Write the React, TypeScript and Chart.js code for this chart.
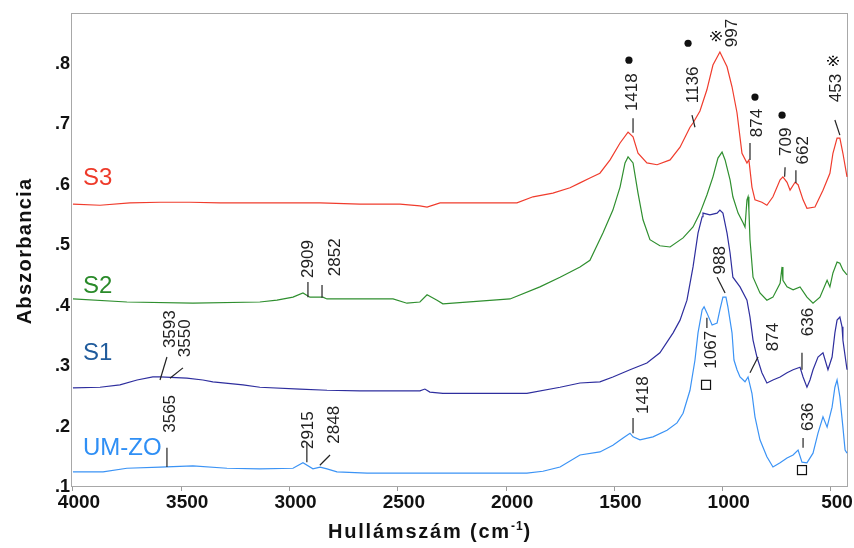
import React, { useEffect, useRef } from 'react';
import { Chart, registerables } from 'chart.js';

Chart.register(...registerables);

// ---- axis ticks ----
const xTickValues = [4000, 3500, 3000, 2500, 2000, 1500, 1000, 500];
const yTickValues = [0.1, 0.2, 0.3, 0.4, 0.5, 0.6, 0.7, 0.8];

// ---- spectra: [wavenumber (cm-1), absorbance] ----
const S3: [number, number][] = [
  [4000, 0.568], [3875, 0.566], [3737, 0.570], [3598, 0.571], [3460, 0.571], [3321, 0.570], [3183, 0.570],
  [3044, 0.570], [2859, 0.570], [2675, 0.568], [2490, 0.568], [2398, 0.565], [2365, 0.563], [2305, 0.570],
  [2121, 0.570], [1950, 0.570], [1876, 0.580], [1784, 0.586], [1705, 0.595], [1659, 0.603], [1613, 0.611],
  [1567, 0.619], [1520, 0.641], [1474, 0.669], [1437, 0.687], [1414, 0.679], [1391, 0.652], [1350, 0.636],
  [1303, 0.633], [1243, 0.641], [1197, 0.662], [1151, 0.695], [1137, 0.702], [1105, 0.722], [1073, 0.757],
  [1045, 0.798], [1013, 0.8195], [980, 0.795], [957, 0.762], [934, 0.719], [911, 0.652], [888, 0.636],
  [879, 0.641], [865, 0.596], [851, 0.575], [819, 0.571], [796, 0.566], [768, 0.580], [735, 0.608],
  [722, 0.613], [703, 0.604], [689, 0.591], [666, 0.604], [652, 0.600], [629, 0.575], [611, 0.561],
  [574, 0.563], [537, 0.591], [505, 0.619], [491, 0.652], [472, 0.677], [459, 0.677], [445, 0.652], [426, 0.613],
];

const S2: [number, number][] = [
  [4000, 0.411], [3751, 0.406], [3446, 0.404], [3137, 0.406], [3058, 0.409], [2984, 0.414], [2938, 0.421],
  [2906, 0.414], [2846, 0.414], [2827, 0.411], [2522, 0.411], [2458, 0.404], [2398, 0.406], [2365, 0.418],
  [2319, 0.409], [2292, 0.403], [1982, 0.411], [1844, 0.431], [1751, 0.447], [1659, 0.464], [1613, 0.475],
  [1553, 0.520], [1507, 0.558], [1474, 0.596], [1451, 0.636], [1437, 0.646], [1414, 0.636], [1391, 0.586],
  [1368, 0.542], [1336, 0.509], [1290, 0.499], [1243, 0.497], [1183, 0.512], [1137, 0.530], [1105, 0.553],
  [1073, 0.583], [1045, 0.613], [1022, 0.644], [1003, 0.654], [989, 0.641], [966, 0.608], [953, 0.580],
  [929, 0.553], [906, 0.537], [897, 0.530], [888, 0.575], [883, 0.580], [879, 0.558], [874, 0.509],
  [860, 0.447], [828, 0.421], [796, 0.409], [768, 0.414], [735, 0.437], [726, 0.464], [722, 0.442],
  [703, 0.431], [675, 0.426], [643, 0.431], [611, 0.414], [583, 0.404], [551, 0.414], [518, 0.442],
  [505, 0.431], [491, 0.454], [472, 0.472], [459, 0.470], [445, 0.459], [426, 0.451],
];

const S1: [number, number][] = [
  [4000, 0.264], [3875, 0.265], [3783, 0.269], [3704, 0.277], [3631, 0.282], [3598, 0.282], [3474, 0.280],
  [3400, 0.277], [3354, 0.274], [3215, 0.269], [3137, 0.265], [2952, 0.262], [2827, 0.260], [2675, 0.259],
  [2398, 0.259], [2375, 0.262], [2352, 0.257], [2292, 0.255], [2213, 0.255], [1904, 0.255], [1751, 0.265],
  [1659, 0.272], [1567, 0.274], [1507, 0.282], [1428, 0.294], [1350, 0.305], [1290, 0.322], [1229, 0.355],
  [1197, 0.376], [1165, 0.409], [1137, 0.464], [1114, 0.520], [1095, 0.547], [1091, 0.553], [1059, 0.550],
  [1026, 0.553], [1013, 0.558], [999, 0.553], [980, 0.520], [966, 0.487], [953, 0.447], [920, 0.431],
  [888, 0.409], [874, 0.381], [860, 0.343], [842, 0.315], [819, 0.289], [796, 0.272], [768, 0.277],
  [735, 0.282], [703, 0.289], [675, 0.294], [643, 0.298], [629, 0.282], [611, 0.265], [597, 0.277],
  [583, 0.294], [560, 0.315], [537, 0.322], [514, 0.294], [495, 0.315], [482, 0.355], [472, 0.376],
  [459, 0.381], [449, 0.365], [445, 0.343], [426, 0.294],
];

const UMZO: [number, number][] = [
  [4000, 0.125], [3861, 0.125], [3751, 0.131], [3598, 0.133], [3446, 0.135], [3289, 0.131], [3137, 0.130],
  [2984, 0.131], [2938, 0.140], [2892, 0.130], [2859, 0.133], [2827, 0.130], [2781, 0.125], [2642, 0.123],
  [2365, 0.123], [1904, 0.123], [1830, 0.126], [1751, 0.133], [1659, 0.153], [1567, 0.158], [1507, 0.169],
  [1460, 0.181], [1428, 0.189], [1414, 0.183], [1382, 0.178], [1322, 0.183], [1257, 0.194], [1211, 0.206],
  [1183, 0.222], [1151, 0.260], [1128, 0.310], [1114, 0.355], [1095, 0.393], [1086, 0.398], [1073, 0.388],
  [1049, 0.368], [1026, 0.371], [1013, 0.393], [999, 0.414], [985, 0.414], [976, 0.398], [957, 0.355],
  [948, 0.310], [934, 0.294], [920, 0.282], [897, 0.274], [883, 0.282], [865, 0.255], [851, 0.216],
  [828, 0.178], [796, 0.150], [768, 0.133], [735, 0.140], [703, 0.148], [675, 0.153], [652, 0.161],
  [634, 0.141], [611, 0.140], [583, 0.156], [560, 0.189], [537, 0.216], [518, 0.199], [495, 0.232],
  [482, 0.265], [472, 0.277], [459, 0.249], [445, 0.199], [435, 0.161], [426, 0.156],
];

// ---- series names / colours ----
const seriesNames = ['S3', 'S2', 'S1', 'UM-ZO'];
const seriesLineColors = ['#f03c2d', '#2f8f2f', '#2e2e9e', '#3b93f5'];
const seriesLabelColors = ['#ee3a2a', '#2a8a2a', '#1f5b9c', '#2f8ff5'];
// label anchor (left, baseline) in data units
const seriesLabelX = [3954, 3954, 3954, 3954];
const seriesLabelY = [0.6, 0.421, 0.31, 0.153];

// ---- peak annotations (data units) ----
type Peak = {
  text: string; x: number; y: number;
  line?: [number, number, number, number];
  mark?: 'dot' | 'star' | 'square'; mx?: number; my?: number;
};
const peakLabels: Peak[] = [
  // S3
  { text: '1418', x: 1419, y: 0.753, line: [1414, 0.710, 1414, 0.686], mark: 'dot', mx: 1433, my: 0.806 },
  { text: '1136', x: 1137, y: 0.765, line: [1142, 0.715, 1128, 0.695], mark: 'dot', mx: 1160, my: 0.834 },
  { text: '997', x: 957, y: 0.851, mark: 'star', mx: 1022, my: 0.846 },
  { text: '874', x: 842, y: 0.702, line: [874, 0.669, 874, 0.641], mark: 'dot', mx: 851, my: 0.745 },
  { text: '709', x: 708, y: 0.671, line: [712, 0.629, 714, 0.613], mark: 'dot', mx: 726, my: 0.715 },
  { text: '662', x: 629, y: 0.657, line: [662, 0.624, 662, 0.603] },
  { text: '453', x: 477, y: 0.760, line: [482, 0.707, 459, 0.682], mark: 'star', mx: 480, my: 0.805 },
  // S2
  { text: '2909', x: 2915, y: 0.477, line: [2915, 0.439, 2915, 0.414] },
  { text: '2852', x: 2790, y: 0.480, line: [2850, 0.434, 2850, 0.413] },
  // S1
  { text: '3593', x: 3552, y: 0.361, line: [3598, 0.277, 3566, 0.315] },
  { text: '3550', x: 3483, y: 0.346, line: [3552, 0.280, 3492, 0.297] },
  { text: '988', x: 1013, y: 0.475, line: [1026, 0.447, 989, 0.421] },
  { text: '1067', x: 1054, y: 0.327, line: [1073, 0.380, 1073, 0.363], mark: 'square', mx: 1077, my: 0.269 },
  { text: '874', x: 768, y: 0.348, line: [874, 0.289, 837, 0.315] },
  { text: '636', x: 606, y: 0.373, line: [634, 0.322, 634, 0.294] },
  // UM-ZO
  { text: '3565', x: 3552, y: 0.221, line: [3566, 0.165, 3566, 0.133] },
  { text: '2915', x: 2915, y: 0.194, line: [2920, 0.173, 2920, 0.141] },
  { text: '2848', x: 2795, y: 0.203, line: [2860, 0.136, 2813, 0.153] },
  { text: '1418', x: 1368, y: 0.252, line: [1414, 0.214, 1414, 0.189] },
  { text: '636', x: 606, y: 0.216, line: [629, 0.181, 629, 0.165], mark: 'square', mx: 634, my: 0.128 },
];

const FONT = '"Liberation Sans", Arial, sans-serif';

const overlayPlugin = {
  id: 'overlay',
  beforeDatasetsDraw(chart: any) {
    const { ctx, chartArea } = chart;
    ctx.save();
    ctx.strokeStyle = '#a8a8a8';
    ctx.lineWidth = 1;
    ctx.strokeRect(chartArea.left + 0.5, chartArea.top + 0.5, chartArea.right - chartArea.left - 1, chartArea.bottom - chartArea.top - 1);
    ctx.restore();
  },
  afterDraw(chart: any) {
    const { ctx, scales } = chart;
    const xs = scales.x, ys = scales.y;
    ctx.save();
    // series labels
    ctx.font = `24px ${FONT}`;
    ctx.textAlign = 'left';
    ctx.textBaseline = 'alphabetic';
    seriesNames.forEach((n, i) => {
      ctx.fillStyle = seriesLabelColors[i];
      ctx.fillText(n, xs.getPixelForValue(seriesLabelX[i]), ys.getPixelForValue(seriesLabelY[i]));
    });
    // peak labels
    for (const p of peakLabels) {
      const px = xs.getPixelForValue(p.x), py = ys.getPixelForValue(p.y);
      ctx.save();
      ctx.translate(px, py);
      ctx.rotate(-Math.PI / 2);
      ctx.font = `17px ${FONT}`;
      ctx.fillStyle = '#222';
      ctx.textAlign = 'center';
      ctx.textBaseline = 'middle';
      ctx.fillText(p.text, 0, 0);
      ctx.restore();
      if (p.line) {
        ctx.strokeStyle = '#222';
        ctx.lineWidth = 1.2;
        ctx.beginPath();
        ctx.moveTo(xs.getPixelForValue(p.line[0]), ys.getPixelForValue(p.line[1]));
        ctx.lineTo(xs.getPixelForValue(p.line[2]), ys.getPixelForValue(p.line[3]));
        ctx.stroke();
      }
      if (p.mark && p.mx !== undefined && p.my !== undefined) {
        const mx = xs.getPixelForValue(p.mx), my = ys.getPixelForValue(p.my);
        ctx.fillStyle = '#111';
        ctx.strokeStyle = '#111';
        if (p.mark === 'dot') {
          ctx.beginPath();
          ctx.arc(mx, my, 3.6, 0, Math.PI * 2);
          ctx.fill();
        } else if (p.mark === 'star') {
          ctx.save();
          ctx.translate(mx, my);
          ctx.rotate(-Math.PI / 2);
          ctx.font = `16px "DejaVu Sans", ${FONT}`;
          ctx.textAlign = 'center';
          ctx.textBaseline = 'middle';
          ctx.fillText('※', 0, 0);
          ctx.restore();
        } else {
          ctx.lineWidth = 1.2;
          ctx.strokeRect(mx - 4.5, my - 4.5, 9, 9);
        }
      }
    }
    // axis titles
    ctx.fillStyle = '#111';
    ctx.font = `bold 20px ${FONT}`;
    (ctx as any).letterSpacing = '1.3px';
    ctx.save();
    ctx.translate(25, (chart.chartArea.top + chart.chartArea.bottom) / 2 + 1);
    ctx.rotate(-Math.PI / 2);
    ctx.textAlign = 'center';
    ctx.textBaseline = 'middle';
    ctx.fillText('Abszorbancia', 0, 0);
    ctx.restore();
    // x title with superscript
    const main = 'Hullámszám (cm';
    const sup = '-1';
    const end = ')';
    (ctx as any).letterSpacing = '1.8px';
    ctx.font = `bold 20px ${FONT}`;
    const wMain = ctx.measureText(main).width;
    const wEnd = ctx.measureText(end).width;
    (ctx as any).letterSpacing = '1px';
    ctx.font = `bold 12px ${FONT}`;
    const wSup = ctx.measureText(sup).width;
    const total = wMain + wSup + wEnd;
    const cx = 430, cy = 538;
    let x0 = cx - total / 2;
    ctx.textAlign = 'left';
    ctx.textBaseline = 'alphabetic';
    (ctx as any).letterSpacing = '1.8px';
    ctx.font = `bold 20px ${FONT}`;
    ctx.fillText(main, x0, cy);
    x0 += wMain;
    (ctx as any).letterSpacing = '1px';
    ctx.font = `bold 12px ${FONT}`;
    ctx.fillText(sup, x0, cy - 8);
    x0 += wSup;
    (ctx as any).letterSpacing = '1.8px';
    ctx.font = `bold 20px ${FONT}`;
    ctx.fillText(end, x0, cy);
    ctx.restore();
  },
};

export default function App() {
  const canvasRef = useRef<HTMLCanvasElement | null>(null);

  useEffect(() => {
    if (!canvasRef.current) return;
    const toPoints = (arr: [number, number][]) => arr.map(([x, y]) => ({ x, y }));
    const allSeries = [S3, S2, S1, UMZO];
    const chart = new Chart(canvasRef.current, {
      type: 'line',
      data: {
        datasets: allSeries.map((s, i) => ({
          label: seriesNames[i],
          data: toPoints(s),
          borderColor: seriesLineColors[i],
          backgroundColor: seriesLineColors[i],
          borderWidth: 1.2,
          pointRadius: 0,
          tension: 0,
          fill: false,
        })),
      },
      options: {
        animation: false,
        responsive: false,
        devicePixelRatio: 1,
        parsing: false as any,
        layout: { padding: { left: 0, right: 6, top: 13, bottom: 0 } },
        plugins: { legend: { display: false }, tooltip: { enabled: false } },
        scales: {
          x: {
            type: 'linear',
            reverse: true,
            min: 421.5,
            max: 4009,
            afterBuildTicks: (scale: any) => {
              scale.ticks = xTickValues.map((v) => ({ value: v }));
            },
            afterFit: (scale: any) => {
              scale.height = 61;
            },
            ticks: {
              autoSkip: false,
              maxRotation: 0,
              padding: 0,
              labelOffset: 6,
              color: '#111',
              font: { family: FONT, size: 19, weight: 'bold' },
              callback: (v: any) => String(v),
            },
            grid: { drawOnChartArea: false, drawTicks: true, tickLength: 4, color: '#9a9a9a' },
            border: { display: false },
          },
          y: {
            type: 'linear',
            min: 0.1,
            max: 0.884,
            afterBuildTicks: (scale: any) => {
              scale.ticks = yTickValues.map((v) => ({ value: v }));
            },
            afterFit: (scale: any) => {
              scale.width = 71;
            },
            ticks: {
              padding: 1,
              color: '#111',
              font: { family: FONT, size: 18, weight: 'bold' },
              callback: (v: any) => '.' + Math.round(Number(v) * 10),
            },
            grid: { display: false, drawTicks: false },
            border: { display: false },
          },
        },
      },
      plugins: [overlayPlugin],
    });
    return () => chart.destroy();
  }, []);

  return (
    <div style={{ position: 'fixed', left: 0, top: 0, width: 854, height: 548, background: '#fff' }}>
      <canvas ref={canvasRef} width={854} height={548} style={{ width: 854, height: 548, display: 'block' }} />
    </div>
  );
}
